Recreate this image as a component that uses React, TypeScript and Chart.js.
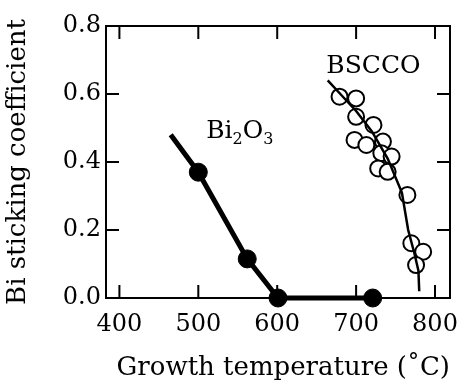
import React, { useEffect, useRef } from "react";
import { Chart, registerables } from "chart.js";

Chart.register(...registerables);

const xTicks = [400, 500, 600, 700, 800];
const yTicks = [0, 0.2, 0.4, 0.6, 0.8];

const bi2o3LineX = [465, 500, 562, 601, 721];
const bi2o3LineY = [0.48, 0.37, 0.115, 0, 0];
const bi2o3PtsX = [500, 562, 601, 721];
const bi2o3PtsY = [0.37, 0.115, 0, 0];

const bscLineX = [664, 680, 700, 720, 740, 758, 766, 774, 779, 780];
const bscLineY = [0.64, 0.6, 0.55, 0.49, 0.41, 0.31, 0.2, 0.13, 0.08, 0.02];
const bscPtsX = [679, 700, 700, 722, 698, 713, 734, 732, 745, 728, 740, 765, 770, 785, 776];
const bscPtsY = [0.592, 0.587, 0.533, 0.509, 0.465, 0.45, 0.46, 0.426, 0.416, 0.381, 0.371, 0.303, 0.161, 0.136, 0.097];

const labelTexts = ["BSCCO", "Bi_2O_3"];
const labelX = [722, 510];
const labelY = [0.688, 0.47];

const FONT = "'DejaVu Serif', serif";

const zip = (xs: number[], ys: number[]) => xs.map((x, i) => ({ x, y: ys[i] }));

const framePlugin = {
  id: "frame",
  afterDatasetsDraw(chart: any) {
    const { ctx, chartArea: a, scales } = chart;
    const xs = scales.x;
    const ys = scales.y;
    ctx.save();
    ctx.strokeStyle = "#000";
    ctx.lineWidth = 2;
    ctx.strokeRect(a.left, a.top, a.right - a.left, a.bottom - a.top);
    const L = 13;
    ctx.beginPath();
    xTicks.forEach((v) => {
      const px = xs.getPixelForValue(v);
      ctx.moveTo(px, a.bottom);
      ctx.lineTo(px, a.bottom - L);
      ctx.moveTo(px, a.top);
      ctx.lineTo(px, a.top + L);
    });
    yTicks.forEach((v) => {
      const py = ys.getPixelForValue(v);
      ctx.moveTo(a.left, py);
      ctx.lineTo(a.left + L, py);
      ctx.moveTo(a.right, py);
      ctx.lineTo(a.right - L, py);
    });
    ctx.stroke();

    ctx.fillStyle = "#000";
    ctx.textBaseline = "alphabetic";
    labelTexts.forEach((t, i) => {
      let px = xs.getPixelForValue(labelX[i]);
      const py = ys.getPixelForValue(labelY[i]);
      if (i === 0) {
        ctx.font = `25px ${FONT}`;
        ctx.textAlign = "center";
        ctx.fillText(t, px, py + 9);
      } else {
        ctx.textAlign = "left";
        ctx.font = `25px ${FONT}`;
        ctx.fillText("Bi", px, py);
        px += ctx.measureText("Bi").width;
        ctx.font = `16px ${FONT}`;
        ctx.fillText("2", px, py + 6);
        px += ctx.measureText("2").width;
        ctx.font = `25px ${FONT}`;
        ctx.fillText("O", px, py);
        px += ctx.measureText("O").width;
        ctx.font = `16px ${FONT}`;
        ctx.fillText("3", px, py + 6);
      }
    });
    ctx.restore();
  },
};

export default function App() {
  const ref = useRef<HTMLCanvasElement>(null);
  useEffect(() => {
    const chart = new Chart(ref.current!, {
      type: "scatter",
      data: {
        datasets: [
          {
            type: "line",
            data: zip(bi2o3LineX, bi2o3LineY),
            borderColor: "#000",
            borderWidth: 5,
            pointRadius: 0,
            showLine: true,
            clip: false,
          } as any,
          {
            type: "line",
            data: zip(bscLineX, bscLineY),
            borderColor: "#000",
            borderWidth: 2.5,
            pointRadius: 0,
            showLine: true,
            tension: 0,
            clip: false,
          } as any,
          {
            data: zip(bi2o3PtsX, bi2o3PtsY),
            backgroundColor: "#000",
            borderColor: "#000",
            pointRadius: 9,
            borderWidth: 1,
            clip: false,
          } as any,
          {
            data: zip(bscPtsX, bscPtsY),
            backgroundColor: "#fff",
            borderColor: "#000",
            pointRadius: 8,
            borderWidth: 2,
            clip: false,
          } as any,
        ],
      },
      options: {
        animation: false,
        responsive: false,
        devicePixelRatio: 1,
        layout: { padding: { top: 26, right: 13, left: 0, bottom: 0 } },
        plugins: { legend: { display: false }, tooltip: { enabled: false } },
        scales: {
          x: {
            type: "linear",
            min: 383,
            max: 819,
            grid: { display: false, drawTicks: false },
            border: { display: false },
            afterBuildTicks: (s: any) => {
              s.ticks = xTicks.map((v) => ({ value: v }));
            },
            afterFit: (s: any) => {
              s.height = 87;
              s.paddingLeft = 0;
              s.paddingRight = 0;
            },
            ticks: {
              color: "#000",
              font: { family: FONT, size: 24 },
              padding: 12,
              maxRotation: 0,
              callback: (v: any) => String(v),
            },
            title: {
              display: true,
              text: "Growth temperature (˚C)",
              color: "#000",
              align: "end",
              font: { family: FONT, size: 26 },
              padding: { top: 0, bottom: 1 },
            },
          },
          y: {
            type: "linear",
            min: 0,
            max: 0.8,
            grid: { display: false, drawTicks: false },
            border: { display: false },
            afterBuildTicks: (s: any) => {
              s.ticks = yTicks.map((v) => ({ value: v }));
            },
            afterFit: (s: any) => {
              s.width = 106;
              s.paddingTop = 0;
              s.paddingBottom = 0;
            },
            ticks: {
              color: "#000",
              font: { family: FONT, size: 24 },
              padding: 5,
              callback: (v: any) => Number(v).toFixed(1),
            },
            title: {
              display: true,
              text: "Bi sticking coefficient",
              color: "#000",
              font: { family: FONT, size: 26 },
              padding: { top: 3, bottom: 0 },
            },
          },
        },
      },
      plugins: [framePlugin],
    } as any);
    return () => chart.destroy();
  }, []);
  return (
    <div style={{ position: "fixed", left: 0, top: 0, width: 463, height: 385, background: "#fff" }}>
      <canvas ref={ref} width={463} height={385} style={{ width: 463, height: 385 }} />
    </div>
  );
}
